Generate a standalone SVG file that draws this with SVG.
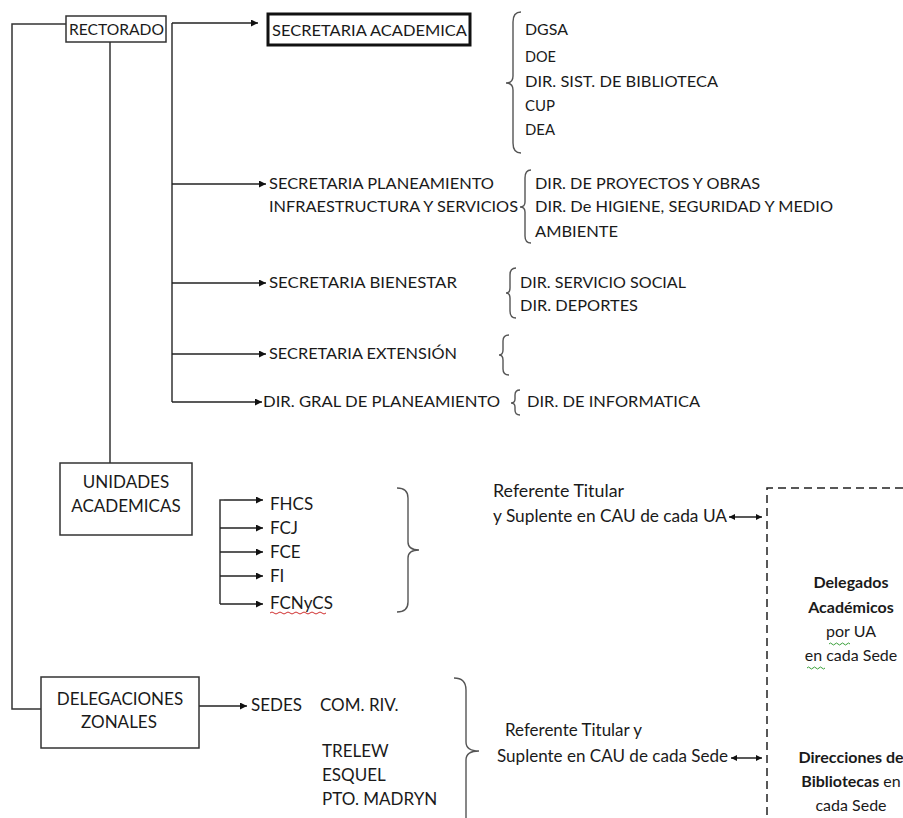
<svg xmlns="http://www.w3.org/2000/svg" width="903" height="818" viewBox="0 0 903 818">
<defs>
<marker id="ah" viewBox="0 0 10 10" refX="10" refY="5" markerWidth="7" markerHeight="7" markerUnits="userSpaceOnUse" orient="auto"><path d="M0,0 L10,5 L0,10 Z" fill="#111"/></marker>
<marker id="ah2" viewBox="0 0 10 10" refX="10" refY="5" markerWidth="6" markerHeight="6" markerUnits="userSpaceOnUse" orient="auto-start-reverse"><path d="M0,0 L10,5 L0,10 Z" fill="#111"/></marker>
</defs>
<style>
.ln{fill:none;stroke:#333;stroke-width:1.5}
.ar{fill:none;stroke:#222;stroke-width:1.5;marker-end:url(#ah)}
.da{fill:none;stroke:#222;stroke-width:1.5;marker-start:url(#ah2);marker-end:url(#ah2)}
.br{fill:none;stroke:#555;stroke-width:1.4}
.box{fill:#fff;stroke:#333;stroke-width:1.5}
.t{font-family:Lato,"Liberation Sans",sans-serif;font-size:14.5px;fill:#1a1a1a}
.m{font-family:Lato,"Liberation Sans",sans-serif;font-size:17px;fill:#1a1a1a}
.r{font-family:Lato,"Liberation Sans",sans-serif;font-size:17px;fill:#1a1a1a}
.b{font-family:Lato,"Liberation Sans",sans-serif;font-size:16px;font-weight:bold;fill:#1a1a1a}
.c{font-family:Lato,"Liberation Sans",sans-serif;font-size:16px;fill:#1a1a1a}
.sq{fill:none;stroke-width:1}
</style>
<rect width="903" height="818" fill="#fff"/>
<g id="connectors">
<path class="ln" d="M66,24 H12 V709 H41"/>
<path class="ln" d="M110,42 V463"/>
<path class="ln" d="M172,23 V402"/>
<path class="ar" d="M172,23 H258"/>
<path class="ar" d="M172,184 H266"/>
<path class="ar" d="M172,283 H266"/>
<path class="ar" d="M172,354 H266"/>
<path class="ar" d="M172,402 H262"/>
<path class="ln" d="M224,500 H220 V604"/>
<path class="ar" d="M224,500 H263"/>
<path class="ar" d="M220,528 H263"/>
<path class="ar" d="M220,552 H263"/>
<path class="ar" d="M220,576 H263"/>
<path class="ar" d="M220,604 H263"/>
<path class="ar" d="M199,706 H247"/>
<path class="da" d="M729,517 H762"/>
<path class="da" d="M731,758 H762"/>
<path fill="none" stroke="#222" stroke-width="1.5" stroke-dasharray="8,5" d="M903,488 H767 V818"/>
</g>
<g id="braces">
<path class="br" d="M521,12 Q513,12 513,22 L513,76 Q513,83 506,83 Q513,83 513,90 L513,143 Q513,153 521,153"/>
<path class="br" d="M531,170 Q525,170 525,178 L525,202 Q525,207 520,207 Q525,207 525,212 L525,236 Q525,243 531,243"/>
<path class="br" d="M516,268 Q510,268 510,275 L510,288 Q510,293 506,293 Q510,293 510,298 L510,311 Q510,318 516,318"/>
<path class="br" d="M509,335 Q503,335 503,341 L503,350 Q503,355 499,355 Q503,355 503,360 L503,369 Q503,375 509,375"/>
<path class="br" d="M520,390 Q515,390 515,395 L515,399 Q515,403 511,403 Q515,403 515,407 L515,410 Q515,415 520,415"/>
<path class="br" d="M397,488 Q408,488 408,498 L408,542 Q408,550 419,550 Q408,550 408,558 L408,602 Q408,612 397,612"/>
<path class="br" d="M454,678 Q466,678 466,690 L466,742 Q466,751 479,751 Q466,751 466,760 L466,818"/>
</g>
<g id="rectorado">
<rect class="box" x="66" y="16" width="100" height="26"/>
<text class="t" x="69" y="35" textLength="95" lengthAdjust="spacingAndGlyphs">RECTORADO</text>
</g>
<g id="sec-academica">
<rect x="268" y="14" width="202" height="31" fill="#fff" stroke="#111" stroke-width="3"/>
<text class="t" x="272" y="36" textLength="195" lengthAdjust="spacingAndGlyphs">SECRETARIA ACADEMICA</text>
</g>
<g id="sa-children">
<text class="t" x="525" y="35" textLength="43" lengthAdjust="spacingAndGlyphs">DGSA</text>
<text class="t" x="525" y="62" textLength="31" lengthAdjust="spacingAndGlyphs">DOE</text>
<text class="t" x="525" y="87" textLength="193" lengthAdjust="spacingAndGlyphs">DIR. SIST. DE BIBLIOTECA</text>
<text class="t" x="525" y="111" textLength="30" lengthAdjust="spacingAndGlyphs">CUP</text>
<text class="t" x="525" y="135" textLength="30" lengthAdjust="spacingAndGlyphs">DEA</text>
</g>
<g id="sec-planeamiento">
<text class="t" x="269" y="189" textLength="225" lengthAdjust="spacingAndGlyphs">SECRETARIA PLANEAMIENTO</text>
<text class="t" x="269" y="212" textLength="249" lengthAdjust="spacingAndGlyphs">INFRAESTRUCTURA Y SERVICIOS</text>
</g>
<g id="sp-children">
<text class="t" x="535" y="189" textLength="225" lengthAdjust="spacingAndGlyphs">DIR. DE PROYECTOS Y OBRAS</text>
<text class="t" x="535" y="212" textLength="298" lengthAdjust="spacingAndGlyphs">DIR. De HIGIENE, SEGURIDAD Y MEDIO</text>
<text class="t" x="535" y="237" textLength="83" lengthAdjust="spacingAndGlyphs">AMBIENTE</text>
</g>
<g id="sec-bienestar">
<text class="t" x="269" y="288" textLength="188" lengthAdjust="spacingAndGlyphs">SECRETARIA BIENESTAR</text>
</g>
<g id="sb-children">
<text class="t" x="520" y="288" textLength="166" lengthAdjust="spacingAndGlyphs">DIR. SERVICIO SOCIAL</text>
<text class="t" x="520" y="311" textLength="118" lengthAdjust="spacingAndGlyphs">DIR. DEPORTES</text>
</g>
<g id="sec-extension">
<text class="t" x="269" y="359" textLength="188" lengthAdjust="spacingAndGlyphs">SECRETARIA EXTENSIÓN</text>
</g>
<g id="dir-gral">
<text class="t" x="263" y="407" textLength="237" lengthAdjust="spacingAndGlyphs">DIR. GRAL DE PLANEAMIENTO</text>
<text class="t" x="527" y="407" textLength="173" lengthAdjust="spacingAndGlyphs">DIR. DE INFORMATICA</text>
</g>
<g id="unidades">
<rect class="box" x="60" y="463" width="132" height="72"/>
<text class="m" x="126" y="488" text-anchor="middle">UNIDADES</text>
<text class="m" x="126" y="512" text-anchor="middle">ACADEMICAS</text>
</g>
<g id="facultades">
<text class="m" x="270" y="510">FHCS</text>
<text class="m" x="270" y="534">FCJ</text>
<text class="m" x="270" y="558">FCE</text>
<text class="m" x="270" y="582">FI</text>
<text class="m" x="270" y="609">FCNyCS</text>
<path class="sq" stroke="#d03030" d="M270,613 q2,-2 4,0 t4,0 t4,0 t4,0 t4,0 t4,0 t4,0 t4,0 t4,0 t4,0 t4,0 t4,0 t4,0 t4,0"/>
</g>
<g id="ref-ua">
<text class="r" x="493" y="497" textLength="131" lengthAdjust="spacingAndGlyphs">Referente Titular</text>
<text class="r" x="493" y="522" textLength="234" lengthAdjust="spacingAndGlyphs">y Suplente en CAU de cada UA</text>
</g>
<g id="delegados">
<text class="b" x="851" y="588" text-anchor="middle">Delegados</text>
<text class="b" x="851" y="613" text-anchor="middle">Académicos</text>
<text class="c" x="851" y="637" text-anchor="middle">por UA</text>
<path class="sq" stroke="#3aa03a" d="M829,644 q1.5,-2 3,0 t3,0 t3,0 t3,0 t3,0 t3,0 t3,0"/>
<text class="c" x="851" y="661" text-anchor="middle">en cada Sede</text>
<path class="sq" stroke="#3aa03a" d="M807,668 q1.5,-2 3,0 t3,0 t3,0 t3,0 t3,0 t3,0"/>
</g>
<g id="delegaciones">
<rect class="box" x="41" y="677" width="158" height="71"/>
<text class="m" x="120" y="705" text-anchor="middle">DELEGACIONES</text>
<text class="m" x="119" y="728" text-anchor="middle">ZONALES</text>
</g>
<g id="sedes">
<text class="m" x="251" y="711">SEDES</text>
<text class="m" x="320" y="711">COM. RIV.</text>
<text class="m" x="322" y="757">TRELEW</text>
<text class="m" x="322" y="781">ESQUEL</text>
<text class="m" x="322" y="805">PTO. MADRYN</text>
</g>
<g id="ref-sede">
<text class="r" x="505" y="736" textLength="137" lengthAdjust="spacingAndGlyphs">Referente Titular y</text>
<text class="r" x="497" y="762" textLength="231" lengthAdjust="spacingAndGlyphs">Suplente  en CAU de cada Sede</text>
</g>
<g id="direcciones">
<text class="b" x="851" y="763" text-anchor="middle">Direcciones de</text>
<text x="851" y="787" text-anchor="middle" class="c"><tspan font-weight="bold">Bibliotecas</tspan> en</text>
<text class="c" x="851" y="811" text-anchor="middle">cada Sede</text>
</g>
</svg>
